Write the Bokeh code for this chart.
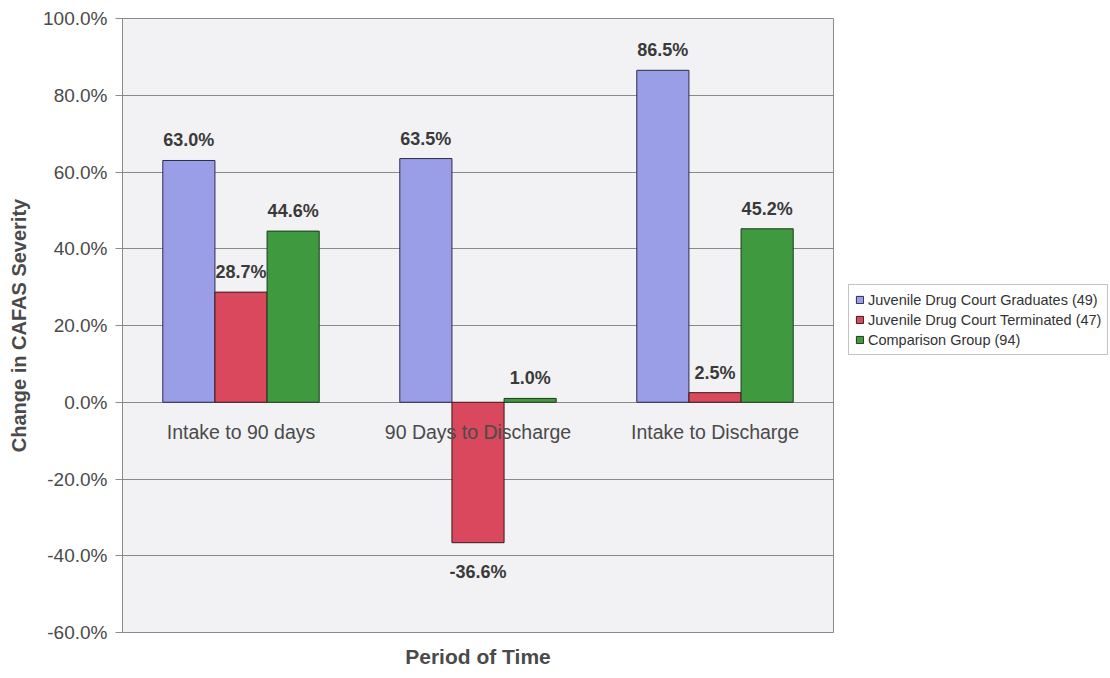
from bokeh.plotting import figure
from bokeh.models import ColumnDataSource, FactorRange, NumeralTickFormatter, Legend, LegendItem, FixedTicker, Title
from bokeh.transform import dodge
from bokeh.core.properties import value
from bokeh.embed import file_html
from bokeh.resources import INLINE

categories = ["Intake to 90 days", "90 Days to Discharge", "Intake to Discharge"]
series_names = ["Juvenile Drug Court Graduates (49)",
                "Juvenile Drug Court Terminated (47)",
                "Comparison Group (94)"]
graduates = [0.630, 0.635, 0.865]
terminated = [0.287, -0.366, 0.025]
comparison = [0.446, 0.010, 0.452]
y_ticks = [-0.6, -0.4, -0.2, 0.0, 0.2, 0.4, 0.6, 0.8, 1.0]

colors = ["#9a9ee6", "#d9485c", "#3f9a3f"]
edges = ["#2a2a50", "#3a1a1e", "#1c3a1c"]
offsets = [-0.22, 0.0, 0.22]
FONT = "Liberation Sans"

p = figure(x_range=FactorRange(*categories, range_padding=0), y_range=(-0.6, 1.0),
           frame_width=711, frame_height=614, output_backend="svg", toolbar_location=None,
           x_axis_location=None,
           min_border_left=122, min_border_right=274, min_border_top=18, min_border_bottom=0)

p.background_fill_color = "#f2f2f5"
p.border_fill_color = "white"
p.outline_line_color = "#8a8a8a"
p.outline_line_width = 1

p.xgrid.grid_line_color = None
p.ygrid.grid_line_color = "#8a8a8a"
p.ygrid.grid_line_width = 1
p.yaxis.ticker = FixedTicker(ticks=y_ticks)
p.yaxis.formatter = NumeralTickFormatter(format="0.0%")
p.yaxis.axis_line_color = "#8a8a8a"
p.yaxis.major_tick_line_color = "#8a8a8a"
p.yaxis.major_tick_in = 0
p.yaxis.major_tick_out = 7
p.yaxis.minor_tick_line_color = None
p.yaxis.major_label_text_font = FONT
p.yaxis.major_label_text_font_size = "19px"
p.yaxis.major_label_text_color = "#4a4a4a"
p.yaxis.major_label_standoff = 8
p.yaxis.axis_label = "Change in CAFAS Severity"
p.yaxis.axis_label_text_font = FONT
p.yaxis.axis_label_text_font_size = "20px"
p.yaxis.axis_label_text_font_style = "bold"
p.yaxis.axis_label_text_color = "#4a4a4a"
p.yaxis.axis_label_standoff = 10

xlabel = Title(text="Period of Time", align="center", text_font=FONT, text_font_size="21px",
               text_font_style="bold", text_color="#4a4a4a", standoff=20, offset=0, padding=0)
p.add_layout(xlabel, "below")

data = dict(cat=categories, s0=graduates, s1=terminated, s2=comparison)
src = ColumnDataSource(data)

items = []
for i, key in enumerate(["s0", "s1", "s2"]):
    r = p.vbar(x=dodge("cat", offsets[i], range=p.x_range), top=key, bottom=0, width=0.22,
               source=src, fill_color=colors[i], line_color=edges[i], line_width=1)
    items.append(LegendItem(label=series_names[i], renderers=[r]))
    vals = data[key]
    lab_src = ColumnDataSource(dict(
        cat=categories, y=vals,
        txt=[f"{v*100:.1f}%" for v in vals],
        off=[-20 if v >= 0 else 29 for v in vals]))
    p.text(x=dodge("cat", offsets[i], range=p.x_range), y="y", text="txt", y_offset="off",
           source=lab_src, text_align="center", text_baseline="middle",
           text_font=value(FONT), text_font_size="18px", text_font_style="bold",
           text_color="#3a3a3a")

cat_src = ColumnDataSource(dict(cat=categories, y=[0.0] * len(categories)))
p.text(x="cat", y="y", text="cat", source=cat_src, y_offset=30,
       text_align="center", text_baseline="middle",
       text_font=value(FONT), text_font_size="19.5px", text_color="#4a4a4a")

legend = Legend(items=items, location=(15, 277))
legend.label_text_font = FONT
legend.label_text_font_size = "14.5px"
legend.label_text_color = "#333333"
legend.glyph_width = 9
legend.glyph_height = 9
legend.label_height = 17
legend.label_standoff = 4
legend.spacing = 3
legend.padding = 6
legend.margin = 0
legend.border_line_color = "#888888"
legend.border_line_width = 1
legend.background_fill_color = "white"
p.add_layout(legend, "right")

open("out.html", "w").write(file_html(p, INLINE))
